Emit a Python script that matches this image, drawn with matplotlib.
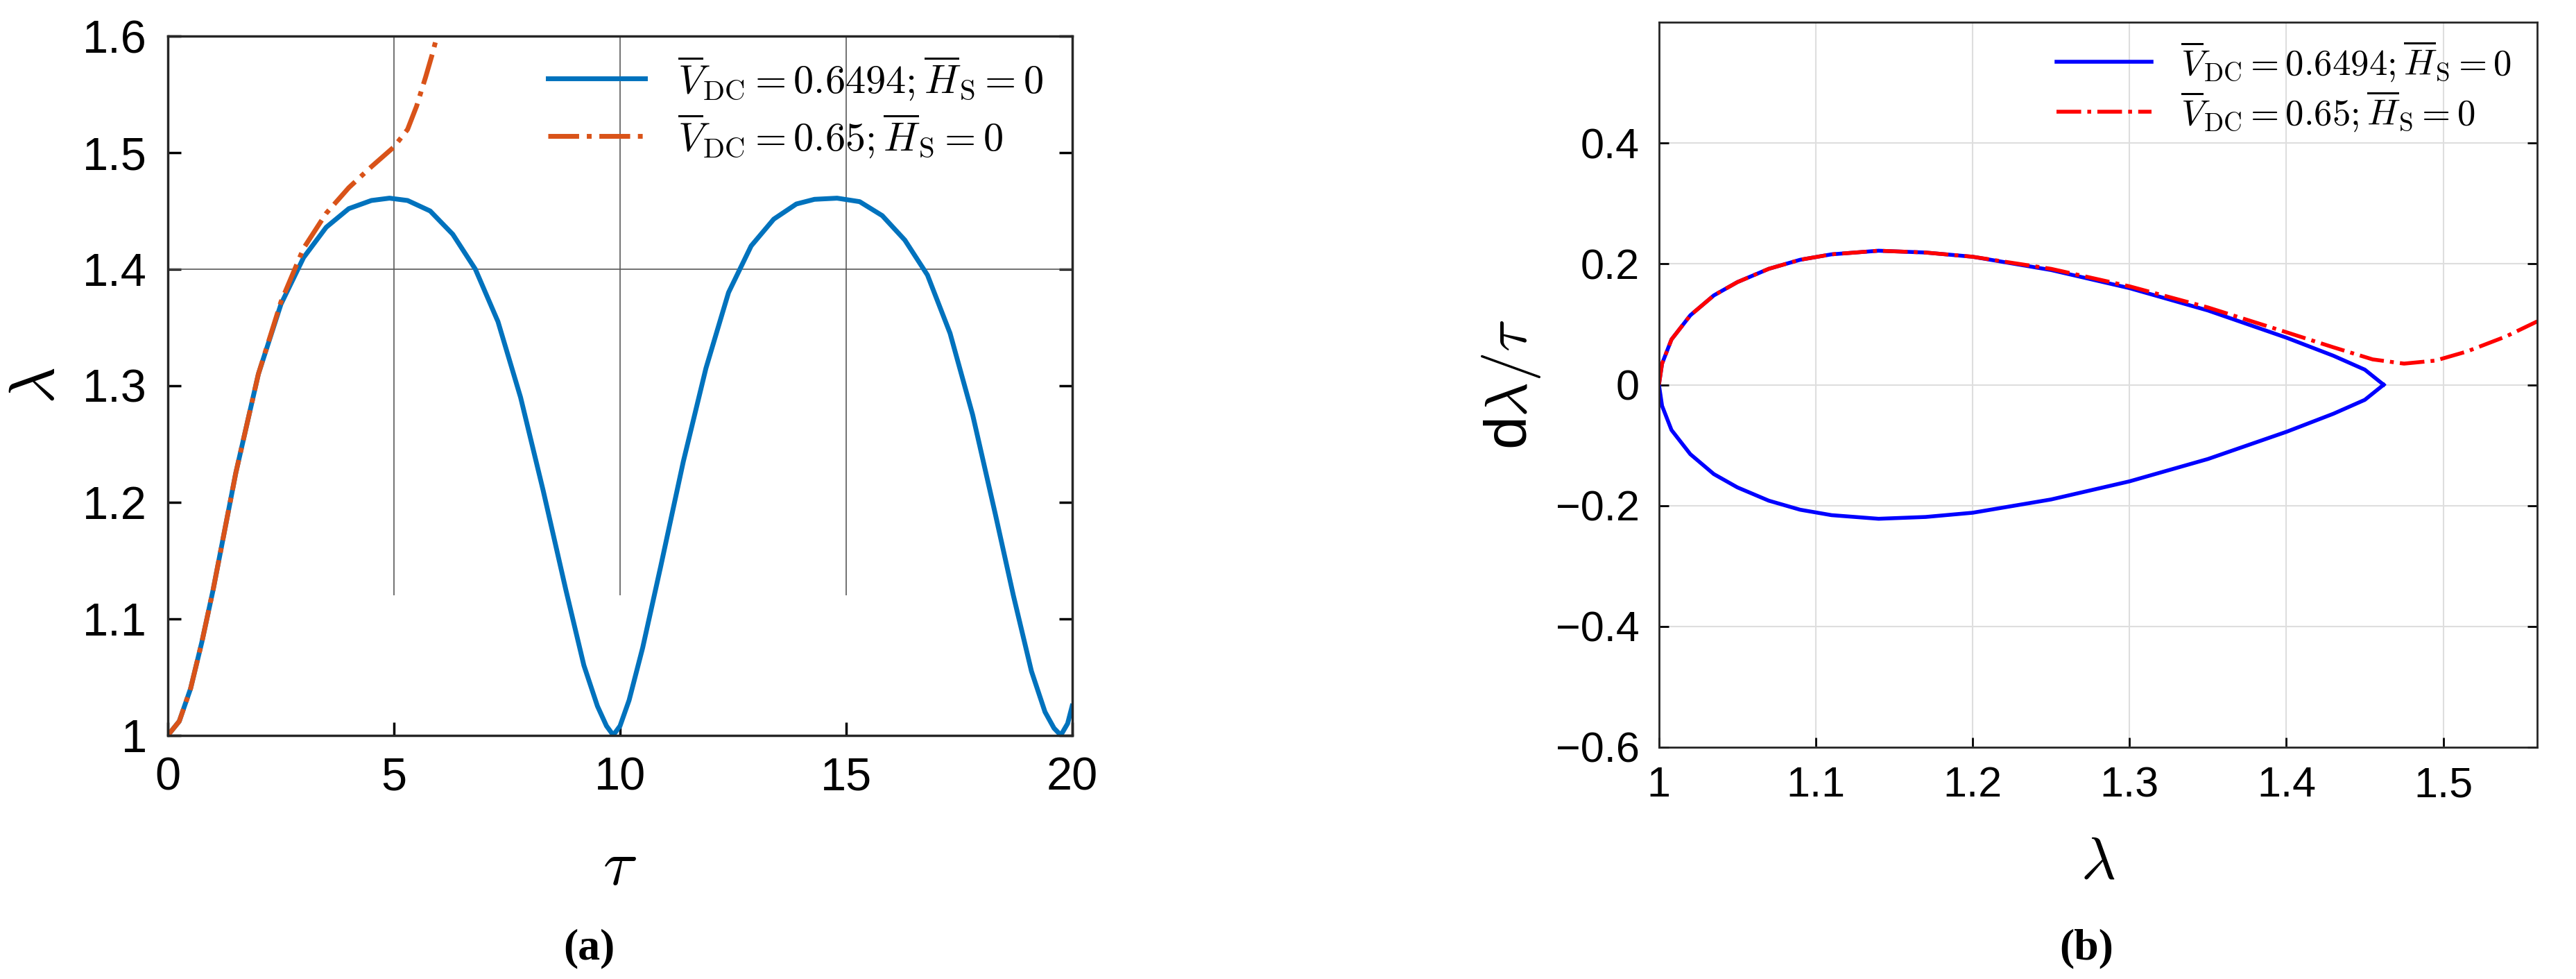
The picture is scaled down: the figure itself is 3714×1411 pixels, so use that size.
import matplotlib
matplotlib.use("Agg")
import matplotlib.pyplot as plt

plt.rcParams['font.family'] = ['Liberation Sans', 'DejaVu Sans']
plt.rcParams['mathtext.fontset'] = 'cm'

# (a) lambda vs tau, stable case V=0.6494
tau_a = [0, 0.25, 0.5, 0.75, 1, 1.5, 2, 2.5, 3, 3.5, 4, 4.5, 4.9, 5.3, 5.8, 6.3, 6.8, 7.3, 7.8, 8.3, 8.8, 9.2,
         9.5, 9.7, 9.85, 10.0, 10.2, 10.5, 10.9, 11.4, 11.9, 12.4, 12.9, 13.4, 13.9, 14.3, 14.8, 15.3, 15.8,
         16.3, 16.8, 17.3, 17.8, 18.3, 18.7, 19.1, 19.4, 19.6, 19.75, 19.9, 20.0]
lam_a = [1.0, 1.012, 1.04, 1.08, 1.125, 1.225, 1.31, 1.37, 1.41, 1.436, 1.452, 1.459, 1.461, 1.459, 1.45, 1.43,
         1.40, 1.355, 1.29, 1.21, 1.125, 1.06, 1.025, 1.008, 1.0, 1.008, 1.03, 1.075, 1.145, 1.235, 1.315,
         1.38, 1.42, 1.443, 1.456, 1.46, 1.461, 1.458, 1.446, 1.425, 1.395, 1.345, 1.275, 1.19, 1.12, 1.055,
         1.02, 1.006, 1.0, 1.01, 1.025]
# unstable case V=0.65
tau_b = [0, 0.25, 0.5, 0.75, 1, 1.5, 2, 2.5, 3, 3.5, 4, 4.5, 5.0, 5.3, 5.5, 5.7, 5.85, 5.95]
lam_b = [1.0, 1.012, 1.04, 1.08, 1.125, 1.225, 1.31, 1.372, 1.418, 1.448, 1.47, 1.488, 1.505, 1.52, 1.54,
         1.565, 1.585, 1.6]

# (b) phase portrait
lam_p = [1.0, 1.002, 1.008, 1.02, 1.035, 1.05, 1.07, 1.09, 1.11, 1.14, 1.17, 1.2, 1.25, 1.3, 1.35, 1.4,
         1.43, 1.45, 1.462]
dlam_p = [0.0, 0.035, 0.075, 0.115, 0.148, 0.17, 0.192, 0.207, 0.216, 0.222, 0.219, 0.212, 0.19, 0.16, 0.123,
          0.078, 0.048, 0.025, 0.0]
lam_q = [1.0, 1.002, 1.008, 1.02, 1.035, 1.05, 1.07, 1.09, 1.11, 1.14, 1.17, 1.2, 1.25, 1.3, 1.35, 1.4,
         1.43, 1.455, 1.475, 1.495, 1.515, 1.54, 1.56]
dlam_q = [0.0, 0.035, 0.075, 0.115, 0.148, 0.17, 0.192, 0.207, 0.216, 0.222, 0.219, 0.212, 0.192, 0.163, 0.128,
          0.087, 0.062, 0.042, 0.035, 0.04, 0.055, 0.08, 0.105]

lab1 = r'$\overline{V}_{\rm DC}=0.6494;\overline{H}_{\rm S}=0$'
lab2 = r'$\overline{V}_{\rm DC}=0.65;\overline{H}_{\rm S}=0$'

fig = plt.figure(figsize=(37.14, 14.11), dpi=100)

ax1 = fig.add_axes([0.0652, 0.249, 0.351, 0.714])
ax1.vlines([5, 10, 15], 1.12, 1.6, color='0.35', lw=1.2)
ax1.axhline(1.4, color='0.35', lw=1.2)
ax1.plot(tau_a, lam_a, color='#0072BD', lw=5, label=lab1)
ax1.plot(tau_b, lam_b, color='#D95319', lw=5, ls='-.', label=lab2)
ax1.set_xlim(0, 20)
ax1.set_ylim(1, 1.6)
ax1.set_xticks([0, 5, 10, 15, 20])
ax1.set_yticks([1, 1.1, 1.2, 1.3, 1.4, 1.5, 1.6])
ax1.set_yticklabels(['1', '1.1', '1.2', '1.3', '1.4', '1.5', '1.6'])
ax1.tick_params(direction='in', labelsize=48, length=14, width=2.5, right=True, top=False, pad=22)
for s in ax1.spines.values():
    s.set_linewidth(2.5)
    s.set_color('0.15')
ax1.set_xlabel(r'$\tau$', fontsize=66, labelpad=40)
ax1.set_ylabel(r'$\lambda$', fontsize=66, labelpad=16)
ax1.legend(loc='upper right', bbox_to_anchor=(0.405, 0.945), bbox_transform=fig.transFigure,
           fontsize=42, frameon=False, handlelength=2.4, borderaxespad=0, borderpad=0, labelspacing=0.25)
fig.text(0.2286, 0.02, '(a)', fontsize=46, family='Liberation Serif', weight='bold', ha='center')

ax2 = fig.add_axes([0.644, 0.237, 0.341, 0.74])
ax2.grid(True, color='0.87', lw=1.5)
ax2.plot(lam_p, dlam_p, color='blue', lw=4)
ax2.plot(lam_p, [-v for v in dlam_p], color='blue', lw=4, label=lab1)
ax2.plot(lam_q, dlam_q, color='red', lw=4, ls='-.', label=lab2)
ax2.set_xlim(1, 1.56)
ax2.set_ylim(-0.6, 0.6)
ax2.set_xticks([1, 1.1, 1.2, 1.3, 1.4, 1.5])
ax2.set_xticklabels(['1', '1.1', '1.2', '1.3', '1.4', '1.5'])
ax2.set_yticks([-0.6, -0.4, -0.2, 0, 0.2, 0.4])
ax2.set_yticklabels(['\u22120.6', '\u22120.4', '\u22120.2', '0', '0.2', '0.4'])
ax2.tick_params(direction='in', labelsize=44, length=10, width=2, right=True, pad=20)
for s in ax2.spines.values():
    s.set_linewidth(2)
    s.set_color('0.15')
ax2.set_xlabel(r'$\lambda$', fontsize=62, labelpad=30)
ax2.set_ylabel(r'd$\lambda/\tau$', fontsize=62, labelpad=14)
ax2.legend(loc='upper right', bbox_to_anchor=(0.975, 0.96), bbox_transform=fig.transFigure,
           fontsize=38, frameon=False, handlelength=2.6, borderaxespad=0, borderpad=0, labelspacing=0.15)
fig.text(0.81, 0.02, '(b)', fontsize=46, family='Liberation Serif', weight='bold', ha='center')

fig.savefig('out.png', dpi=100, facecolor='white')
